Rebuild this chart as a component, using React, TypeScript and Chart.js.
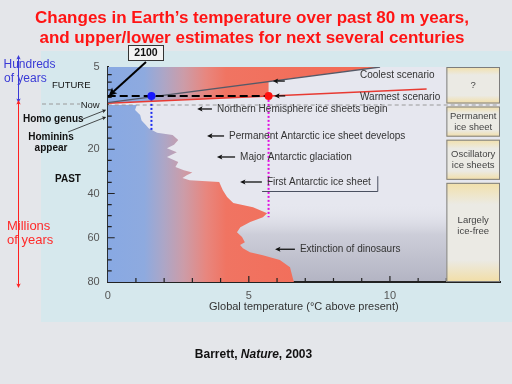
import React, { useEffect, useRef } from 'react';
import { Chart, registerables } from 'chart.js';

Chart.register(...registerables);

// ---------- data ----------
// Past record: global temperature (°C above present) against age (millions of years ago)
const pastAgeMyr = [0, 2.3, 4.5, 7, 9, 10.5, 12.5, 13.6, 15.8, 18, 19.5, 21.3, 23.5, 25.8, 28, 29.5, 30.5, 31.7, 33, 34, 34.8, 38.5, 41.6, 44.3, 46.2, 48.9, 50.7, 52.9, 55.2, 57.5, 59.7, 62, 63.3, 64.7, 66.5, 67.9, 70.1, 73.3, 78.3, 80];
const pastTempC = [1.03, 0.97, 1.15, 1.2, 1.35, 1.45, 1.75, 2.3, 2.5, 2.35, 2.1, 2.45, 2.1, 2.5, 2.4, 2.7, 3.0, 2.8, 2.65, 2.9, 3.95, 4.08, 4.23, 4.45, 5.15, 5.65, 5.5, 5.05, 4.7, 4.58, 4.76, 4.86, 4.69, 4.79, 5.04, 5.5, 6.1, 6.46, 6.56, 6.6];

// Future scenarios (hundreds of years from now)
const coolestHundreds = [0.3, 5];
const coolestTempC = [0, 9.65];
const warmestHundreds = [0.22, 2.1];
const warmestTempC = [0, 11.3];
const year2100Hundreds = 1.2;
const temp2100C = [1.55, 5.7]; // coolest, warmest
const analogueAgeMyr = [12.1, 50.7]; // where the dotted lines reach the past record

// Events
const eventLabels = ['Northern Hemisphere ice sheets begin', 'Permanent Antarctic ice sheet develops', 'Major Antarctic glaciation', 'First Antarctic ice sheet', 'Extinction of dinosaurs'];
const eventAgeMyr = [1.8, 14, 23.5, 34.8, 65.2];
const homoGenusMyr = 2.2;
const homininsMyr = 5.4;

// Ice-state column
const eraLabels = [['?'], ['Permanent', 'ice sheet'], ['Oscillatory', 'ice sheets'], ['Largely', 'ice-free']];
const eraBoundsMyr = [0, 15, 34.5, 80];

// Axes
const xTicks = [0, 5, 10];
const xMinorTicks = [1, 2, 3, 4, 5, 6, 7, 8, 9, 10, 11, 12];
const yPastTicks = [20, 40, 60, 80];
const yPastMinorTicks = [5, 10, 15, 20, 25, 30, 35, 40, 45, 50, 55, 60, 65, 70, 75];
const yFutureMinorTicks = [1, 2, 3, 4];
const futureTopHundreds = 5;
const xMaxC = 13.9;
const panelFromC = 12;

// ---------- layout (positions, not data) ----------
const FONT = '"Liberation Sans", Arial, Helvetica, sans-serif';
const PX_PER_MYR = 177 / 80;
const PX_PER_HUNDRED = 7.6;
const K = PX_PER_HUNDRED / PX_PER_MYR;
const fy = (h: number) => -h * K;
const yMin = fy(futureTopHundreds);
const eventArrowTipC = [3.17, 3.52, 3.87, 4.69, 5.93];
const eventTextC = [3.87, 4.3, 4.69, 5.64, 6.81];
const eraLabelFrac = [0.5, 0.5, 0.5, 0.43];

const interp = (ts: number[], hs: number[], t: number) => hs[0] + ((hs[1] - hs[0]) * (t - ts[0])) / (ts[1] - ts[0]);

const pastPoly = [{ x: 0, y: 0 }, ...pastTempC.map((t, i) => ({ x: t, y: pastAgeMyr[i] })), { x: 0, y: 80 }];
const cut = temp2100C[1];
const futurePoly = [
  { x: warmestTempC[0], y: fy(warmestHundreds[0]) },
  { x: cut, y: fy(interp(warmestTempC, warmestHundreds, cut)) },
  { x: cut, y: fy(interp(coolestTempC, coolestHundreds, cut)) },
  { x: coolestTempC[1], y: fy(coolestHundreds[1]) },
  { x: 0, y: fy(futureTopHundreds) },
];

function tempGradient(context: any) {
  const chart = context.chart;
  const { ctx, chartArea, scales } = chart;
  if (!chartArea || !scales.x) return '#f07060';
  const x0 = scales.x.getPixelForValue(0);
  const x1 = scales.x.getPixelForValue(10);
  const g = ctx.createLinearGradient(x0, 0, x1, 0);
  g.addColorStop(0, '#88a9e3');
  g.addColorStop(0.13, '#8eaadf');
  g.addColorStop(0.2, '#ada6c6');
  g.addColorStop(0.27, '#cc9ca8');
  g.addColorStop(0.35, '#e8867e');
  g.addColorStop(0.42, '#f07462');
  g.addColorStop(1, '#f46852');
  return g;
}

function arrow(ctx: CanvasRenderingContext2D, x1: number, y1: number, x2: number, y2: number, head: number, color: string, lw: number) {
  const a = Math.atan2(y2 - y1, x2 - x1);
  ctx.save();
  ctx.strokeStyle = color;
  ctx.fillStyle = color;
  ctx.lineWidth = lw;
  ctx.setLineDash([]);
  ctx.beginPath();
  ctx.moveTo(x1, y1);
  ctx.lineTo(x2 - Math.cos(a) * head * 0.6, y2 - Math.sin(a) * head * 0.6);
  ctx.stroke();
  ctx.beginPath();
  ctx.moveTo(x2, y2);
  ctx.lineTo(x2 - head * Math.cos(a - 0.45), y2 - head * Math.sin(a - 0.45));
  ctx.lineTo(x2 - head * 0.7 * Math.cos(a), y2 - head * 0.7 * Math.sin(a));
  ctx.lineTo(x2 - head * Math.cos(a + 0.45), y2 - head * Math.sin(a + 0.45));
  ctx.closePath();
  ctx.fill();
  ctx.restore();
}

function text(ctx: CanvasRenderingContext2D, s: string, x: number, y: number, font: string, color: string, align: CanvasTextAlign = 'left') {
  ctx.save();
  ctx.font = font;
  ctx.fillStyle = color;
  ctx.textAlign = align;
  ctx.textBaseline = 'middle';
  ctx.fillText(s, x, y);
  ctx.restore();
}

const backgroundPlugin = {
  id: 'bg',
  beforeDraw(chart: any) {
    const { ctx, chartArea, scales } = chart;
    const ys = scales.y;
    ctx.save();
    ctx.fillStyle = '#e4e6ea';
    ctx.fillRect(0, 0, chart.width, chart.height);
    ctx.fillStyle = '#d6e8ed';
    ctx.fillRect(41, 51, chart.width - 41, 271);
    ctx.fillStyle = '#e6e7ef';
    ctx.fillRect(chartArea.left, chartArea.top, chartArea.right - chartArea.left, chartArea.bottom - chartArea.top);
    const gTop = ys.getPixelForValue(44);
    const gBot = chartArea.bottom;
    const g = ctx.createLinearGradient(0, gTop, 0, gBot);
    g.addColorStop(0, 'rgba(230,231,239,0)');
    g.addColorStop(0.4, '#cdced9');
    g.addColorStop(1, '#b3b4c3');
    ctx.fillStyle = g;
    ctx.fillRect(chartArea.left, gTop, chartArea.right - chartArea.left, gBot - gTop);
    ctx.restore();
  },
};

const annotationPlugin = {
  id: 'annotations',
  afterDraw(chart: any) {
    const { ctx, chartArea, scales } = chart;
    const xs = scales.x;
    const ys = scales.y;
    const px = (v: number) => xs.getPixelForValue(v);
    const py = (v: number) => ys.getPixelForValue(v);
    const f10 = `10px ${FONT}`;

    // inward axis ticks
    ctx.save();
    ctx.strokeStyle = '#222';
    ctx.lineWidth = 1.2;
    ctx.beginPath();
    yPastMinorTicks.forEach((v) => {
      const len = yPastTicks.includes(v) ? 7 : 4;
      ctx.moveTo(chartArea.left, py(v));
      ctx.lineTo(chartArea.left + len, py(v));
    });
    yFutureMinorTicks.forEach((h) => {
      ctx.moveTo(chartArea.left, py(fy(h)));
      ctx.lineTo(chartArea.left + 4, py(fy(h)));
    });
    xMinorTicks.forEach((v) => {
      const len = xTicks.includes(v) ? 6 : 4;
      ctx.moveTo(px(v), chartArea.bottom);
      ctx.lineTo(px(v), chartArea.bottom - len);
    });
    ctx.stroke();
    ctx.restore();

    // ice-state column
    const pl = px(panelFromC);
    const pr = chartArea.right;
    const tops = [yMin, ...eraBoundsMyr.slice(0, 3)];
    const bottoms = eraBoundsMyr;
    eraLabels.forEach((lines, i) => {
      const t = py(tops[i]) + (i === 0 ? 0 : 1.5);
      const b = py(bottoms[i]) - (i === 3 ? 0 : 1.5);
      const g = ctx.createLinearGradient(0, t, 0, b);
      g.addColorStop(0, '#f2e0aa');
      g.addColorStop(0.22, '#ebeae4');
      g.addColorStop(0.78, '#ebeae4');
      g.addColorStop(1, '#f2dea6');
      ctx.save();
      ctx.fillStyle = g;
      ctx.fillRect(pl, t, pr - pl, b - t);
      ctx.strokeStyle = '#7c7c7c';
      ctx.lineWidth = 1;
      ctx.strokeRect(pl + 0.5, t + 0.5, pr - pl - 1, b - t - 1);
      ctx.restore();
      const cy = t + (b - t) * eraLabelFrac[i];
      lines.forEach((s, j) => {
        text(ctx, s, (pl + pr) / 2, cy + (j - (lines.length - 1) / 2) * 11, `9.5px ${FONT}`, '#444', 'center');
      });
    });

    // Now dashed line, left part
    ctx.save();
    ctx.strokeStyle = '#9a9a9a';
    ctx.lineWidth = 1;
    ctx.setLineDash([4, 3]);
    ctx.beginPath();
    ctx.moveTo(42, py(0) - 1);
    ctx.lineTo(80, py(0) - 1);
    ctx.stroke();
    ctx.restore();

    // event annotations
    eventLabels.forEach((s, i) => {
      const y = py(eventAgeMyr[i]);
      const tx = px(eventTextC[i]);
      arrow(ctx, tx - 5, y, px(eventArrowTipC[i]), y, 6, '#111', 1.3);
      text(ctx, s, tx, y, f10, '#333');
    });
    // frame of "First Antarctic ice sheet"
    ctx.save();
    ctx.strokeStyle = '#4a5060';
    ctx.lineWidth = 1;
    ctx.beginPath();
    ctx.moveTo(px(5.47), py(39.1));
    ctx.lineTo(px(9.57), py(39.1));
    ctx.lineTo(px(9.57), py(32.2));
    ctx.stroke();
    ctx.restore();

    // scenario labels
    const tc = 5.85;
    const yc = py(fy(interp(coolestTempC, coolestHundreds, tc)));
    arrow(ctx, px(tc) + 12, yc, px(tc), yc, 6, '#111', 1.3);
    arrow(ctx, px(tc + 0.05) + 11, py(fy(year2100Hundreds)), px(tc + 0.05), py(fy(year2100Hundreds)), 6, '#111', 1.3);
    text(ctx, 'Coolest scenario', px(8.94), py(fy(3.86)), f10, '#333');
    text(ctx, 'Warmest scenario', px(8.94), py(fy(0.96)), f10, '#333');

    // 2100 box and arrow
    ctx.save();
    ctx.fillStyle = '#f3f3f3';
    ctx.fillRect(128, 45, 36, 16);
    ctx.strokeStyle = '#333';
    ctx.lineWidth = 1;
    ctx.strokeRect(128.5, 45.5, 35, 15);
    ctx.restore();
    text(ctx, '2100', 146, 53.5, `bold 10.5px ${FONT}`, '#111', 'center');
    arrow(ctx, 146, 62, px(0) + 1, py(fy(year2100Hundreds)), 9, '#000', 2);

    // left side texts
    text(ctx, 'Hundreds', 3.5, 65, `12px ${FONT}`, '#3a3ad6');
    text(ctx, 'of years', 4, 78.5, `12px ${FONT}`, '#3a3ad6');
    text(ctx, 'FUTURE', 52, 85, `9.5px ${FONT}`, '#111');
    text(ctx, 'Homo genus', 23, 119.5, `bold 10px ${FONT}`, '#111');
    text(ctx, 'Hominins', 51, 137.5, `bold 10px ${FONT}`, '#111', 'center');
    text(ctx, 'appear', 51, 148.5, `bold 10px ${FONT}`, '#111', 'center');
    text(ctx, 'PAST', 55, 179, `bold 10px ${FONT}`, '#111');
    text(ctx, 'Millions', 7, 226, `13px ${FONT}`, '#ff2a2a');
    text(ctx, 'of years', 7, 240, `13px ${FONT}`, '#ff2a2a');
    arrow(ctx, 83, 119, px(0) - 1.5, py(homoGenusMyr), 4.5, '#222', 0.8);
    arrow(ctx, 68, 132, px(0) - 1.5, py(homininsMyr), 4.5, '#222', 0.8);

    // double-headed vertical arrows
    const dbl = (x: number, y1: number, y2: number, color: string) => {
      arrow(ctx, x, (y1 + y2) / 2, x, y1, 5, color, 1);
      arrow(ctx, x, (y1 + y2) / 2, x, y2, 5, color, 1);
    };
    dbl(18.5, 55, py(0) - 2, '#3a3ad6');
    dbl(18.5, py(0) - 5, 288, '#ff2020');

    // title
    const tf = `bold 17px ${FONT}`;
    text(ctx, 'Changes in Earth\u2019s temperature over past 80 m years,', 252, 18.5, tf, '#ff1414', 'center');
    text(ctx, 'and upper/lower estimates for next several centuries', 252, 38.5, tf, '#ff1414', 'center');

    // footer
    ctx.save();
    const fb = `bold 12px ${FONT}`;
    const fi = `italic bold 12px ${FONT}`;
    ctx.font = fb;
    const w1 = ctx.measureText('Barrett, ').width;
    const w3 = ctx.measureText(', 2003').width;
    ctx.font = fi;
    const w2 = ctx.measureText('Nature').width;
    ctx.restore();
    const x0 = 253.5 - (w1 + w2 + w3) / 2;
    text(ctx, 'Barrett, ', x0, 355, fb, '#111');
    text(ctx, 'Nature', x0 + w1, 355, fi, '#111');
    text(ctx, ', 2003', x0 + w1 + w2, 355, fb, '#111');
  },
};

const hidden = { pointRadius: 0, pointHoverRadius: 0, tension: 0 };

export default function App() {
  const ref = useRef<HTMLCanvasElement>(null);
  useEffect(() => {
    const canvas = ref.current;
    if (!canvas) return;
    const chart = new Chart(canvas, {
      type: 'line',
      data: {
        datasets: [
          {
            label: 'Past temperature',
            data: pastPoly,
            fill: 'shape',
            backgroundColor: tempGradient,
            borderColor: 'rgba(0,0,0,0)',
            borderWidth: 0,
            order: 10,
            ...hidden,
          },
          {
            label: 'Future range',
            data: futurePoly,
            fill: 'shape',
            backgroundColor: tempGradient,
            borderColor: 'rgba(0,0,0,0)',
            borderWidth: 0,
            order: 9,
            ...hidden,
          },
          {
            label: 'Now',
            data: [{ x: 0, y: 0 }, { x: xMaxC, y: 0 }],
            borderColor: '#9a9a9a',
            borderWidth: 1,
            borderDash: [4, 3],
            fill: false,
            order: 7,
            ...hidden,
          },
          {
            label: 'Coolest analogue',
            data: [{ x: temp2100C[0], y: fy(year2100Hundreds) }, { x: temp2100C[0], y: analogueAgeMyr[0] }],
            borderColor: '#1a2af0',
            borderWidth: 2,
            borderDash: [2, 2],
            fill: false,
            order: 6,
            ...hidden,
          },
          {
            label: 'Warmest analogue',
            data: [{ x: temp2100C[1], y: fy(year2100Hundreds) }, { x: temp2100C[1], y: analogueAgeMyr[1] }],
            borderColor: '#e010e0',
            borderWidth: 2,
            borderDash: [2, 2],
            fill: false,
            order: 6,
            ...hidden,
          },
          {
            label: 'Coolest scenario',
            data: coolestTempC.map((t, i) => ({ x: t, y: fy(coolestHundreds[i]) })),
            borderColor: '#555a68',
            borderWidth: 1.3,
            fill: false,
            order: 4,
            ...hidden,
          },
          {
            label: 'Warmest scenario',
            data: warmestTempC.map((t, i) => ({ x: t, y: fy(warmestHundreds[i]) })),
            borderColor: '#e83a32',
            borderWidth: 1.5,
            fill: false,
            order: 4,
            ...hidden,
          },
          {
            label: '2100',
            data: [{ x: 0, y: fy(year2100Hundreds) }, { x: temp2100C[1], y: fy(year2100Hundreds) }],
            borderColor: '#000',
            borderWidth: 2,
            borderDash: [8, 4],
            fill: false,
            order: 3,
            ...hidden,
          },
          {
            label: '2100 estimates',
            data: temp2100C.map((t) => ({ x: t, y: fy(year2100Hundreds) })),
            showLine: false,
            pointRadius: 4,
            pointBackgroundColor: ['#1818ff', '#ff1010'],
            pointBorderColor: ['#1818ff', '#ff1010'],
            pointBorderWidth: 0,
            order: 1,
          },
        ],
      },
      options: {
        responsive: false,
        animation: false,
        events: [],
        layout: { padding: { left: 0, right: 12, top: 67, bottom: 66 } },
        plugins: {
          legend: { display: false },
          tooltip: { enabled: false },
          title: { display: false },
        },
        scales: {
          x: {
            type: 'linear',
            min: 0,
            max: xMaxC,
            grid: { display: false, drawTicks: false },
            border: { display: true, color: '#222', width: 2 },
            ticks: { color: '#555', font: { family: FONT, size: 11 }, padding: 7, autoSkip: false, maxRotation: 0 },
            afterBuildTicks: (s: any) => {
              s.ticks = xTicks.map((v) => ({ value: v }));
            },
            afterFit: (s: any) => {
              s.height = 36;
            },
            title: {
              display: true,
              text: 'Global temperature (\u00B0C above present)',
              color: '#333',
              font: { family: FONT, size: 11 },
              padding: { top: 2, bottom: 4 },
            },
          },
          y: {
            type: 'linear',
            min: yMin,
            max: 80,
            reverse: true,
            grid: { display: false, drawTicks: false },
            border: { display: true, color: '#222', width: 2 },
            ticks: {
              autoSkip: false,
              padding: 8,
              color: (c: any) => (c.index === 1 ? '#222' : '#555'),
              font: (c: any) => ({ family: FONT, size: c.index === 1 ? 9.5 : 11 }),
              callback: (v: any, i: number) => (i === 0 ? String(futureTopHundreds) : i === 1 ? 'Now' : String(v)),
            },
            afterBuildTicks: (s: any) => {
              s.ticks = [{ value: yMin }, { value: 0 }, ...yPastTicks.map((v) => ({ value: v }))];
            },
            afterFit: (s: any) => {
              s.width = 107.7;
            },
          },
        },
      } as any,
      plugins: [backgroundPlugin, annotationPlugin],
    } as any);
    return () => chart.destroy();
  }, []);
  return (
    <div style={{ position: 'fixed', left: 0, top: 0, width: 512, height: 384 }}>
      <canvas ref={ref} width={512} height={384} style={{ display: 'block', width: 512, height: 384 }} />
    </div>
  );
}
